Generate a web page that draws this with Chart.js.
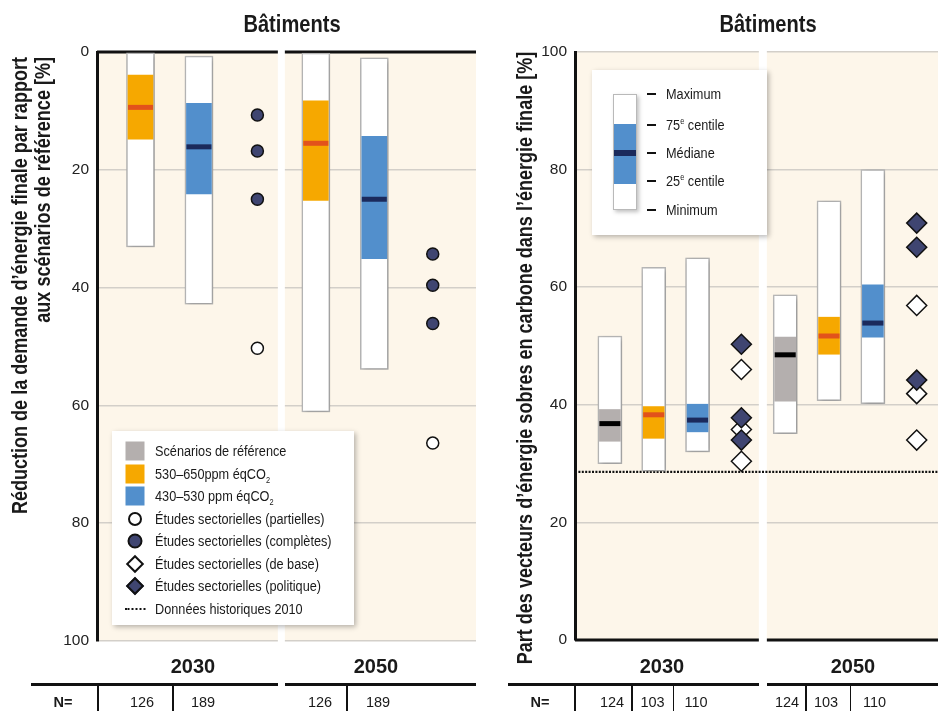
<!DOCTYPE html>
<html lang="fr">
<head>
<meta charset="utf-8">
<title>Bâtiments</title>
<script src="https://cdn.jsdelivr.net/npm/chart.js@4.4.1/dist/chart.umd.min.js"></script>
<style>
  body { margin: 0; background: #fff; }
  #page { position: relative; width: 938px; height: 711px; overflow: hidden;
          font-family: "Liberation Sans", Arial, sans-serif; color: #1a1a1a; }
  canvas { position: absolute; top: 0; }
  .abs { position: absolute; white-space: nowrap; line-height: 1; }
  .e { display: inline-block; transform: scaleX(0.82); transform-origin: 0 50%; white-space: nowrap; }
  .titre { font-weight: bold; font-size: 24.5px; top: 12px; transform: translateX(-50%) scaleX(0.82); }
  .axe { font-weight: bold; font-size: 22px; line-height: 23px; transform-origin: 0 0; transform: rotate(-90deg) scaleX(0.82); }
  .annee { font-weight: bold; font-size: 20px; top: 656px; transform: translateX(-50%); }
  .n { font-size: 14.5px; top: 695px; transform: translateX(-50%); }
  .n.b { font-weight: bold; }
  .trait { position: absolute; background: #111; }
  .legende { position: absolute; background: #fff; box-shadow: 2px 2px 5px rgba(0,0,0,.28); font-size: 15.5px; }
  .ligne { position: relative; height: 22.5px; line-height: 22.5px; padding-left: 43px; white-space: nowrap; }
  .sym { position: absolute; left: 23px; top: 50%; transform: translate(-50%, -50%); box-sizing: border-box; }
  .carre { width: 19px; height: 19px; }
  .rond { border-radius: 50%; border: 2.5px solid #111; }
  .losange { width: 13px; height: 13px; border: 2px solid #111; transform: translate(-50%, -50%) rotate(45deg); }
  .pointilles { width: 21px; height: 0; border-top: 2.5px dotted #111; }
  sub, sup { font-size: 9px; line-height: 0; }
  .tiret { position: absolute; width: 9px; height: 2px; background: #111; left: 55px; }
  .lbl { position: absolute; left: 74px; transform: translateY(-50%) scaleX(0.82); transform-origin: 0 50%; white-space: nowrap; line-height: 1; }
</style>
</head>
<body>
<div id="page">
  <canvas id="gauche" width="476" height="711" style="left:0"></canvas>
  <canvas id="droite" width="462" height="711" style="left:476px"></canvas>

  <div class="abs titre" style="left:292px">Bâtiments</div>
  <div class="abs titre" style="left:768px">Bâtiments</div>

  <div class="abs axe" style="left:7.5px; top:549px; width:600px; text-align:right">Réduction de la demande d’énergie finale par rapport<br>aux scénarios de référence [%]</div>
  <div class="abs axe" style="left:513px; top:686px; width:800px; text-align:center">Part des vecteurs d’énergie sobres en carbone dans l’énergie finale [%]</div>

  <div class="abs annee" style="left:193px">2030</div>
  <div class="abs annee" style="left:376px">2050</div>
  <div class="abs annee" style="left:662px">2030</div>
  <div class="abs annee" style="left:853px">2050</div>

  <div class="trait" style="left:31px; top:683px; width:247px; height:2.5px"></div>
  <div class="trait" style="left:285px; top:683px; width:191px; height:2.5px"></div>
  <div class="trait" style="left:96.5px; top:684px; width:2.5px; height:27px"></div>
  <div class="trait" style="left:172px; top:684px; width:1.5px; height:27px"></div>
  <div class="trait" style="left:346px; top:684px; width:1.5px; height:27px"></div>
  <div class="trait" style="left:508px; top:683px; width:251px; height:2.5px"></div>
  <div class="trait" style="left:767px; top:683px; width:171px; height:2.5px"></div>
  <div class="trait" style="left:573.5px; top:684px; width:2.5px; height:27px"></div>
  <div class="trait" style="left:631px; top:684px; width:1.5px; height:27px"></div>
  <div class="trait" style="left:672.5px; top:684px; width:1.5px; height:27px"></div>
  <div class="trait" style="left:805px; top:684px; width:1.5px; height:27px"></div>
  <div class="trait" style="left:849.5px; top:684px; width:1.5px; height:27px"></div>
  <div class="abs n b" style="left:63px">N=</div>
  <div class="abs n b" style="left:540px">N=</div>
  <div id="effectifs"></div>

  <div class="legende" style="left:112px; top:431px; width:242px; height:194px; padding-top:9px; box-sizing:border-box">
    <div class="ligne"><span class="sym carre" style="background:#B4AFAE"></span><span class="e">Scénarios de référence</span></div>
    <div class="ligne"><span class="sym carre" style="background:#F6A800"></span><span class="e">530–650ppm éqCO<sub>2</sub></span></div>
    <div class="ligne"><span class="sym carre" style="background:#528FCC"></span><span class="e">430–530 ppm éqCO<sub>2</sub></span></div>
    <div class="ligne"><span class="sym rond" style="width:14px;height:14px;background:#fff"></span><span class="e">Études sectorielles (partielles)</span></div>
    <div class="ligne"><span class="sym rond" style="width:15px;height:15px;background:#3F4571;border-width:2px"></span><span class="e">Études sectorielles (complètes)</span></div>
    <div class="ligne"><span class="sym losange" style="background:#fff"></span><span class="e">Études sectorielles (de base)</span></div>
    <div class="ligne"><span class="sym losange" style="background:#3F4571"></span><span class="e">Études sectorielles (politique)</span></div>
    <div class="ligne"><span class="sym pointilles"></span><span class="e">Données historiques 2010</span></div>
  </div>

  <div class="legende" style="left:592px; top:70px; width:175px; height:165px">
    <div style="position:absolute; left:21px; top:24px; width:24px; height:116px; box-sizing:border-box; background:#fff; border:1.5px solid #B9B9B9; box-shadow:1.5px 1.5px 4px rgba(0,0,0,.25)">
      <div style="position:absolute; left:0; right:0; top:28.5px; height:60px; background:#528FCC"></div>
      <div style="position:absolute; left:0; right:0; top:55px; height:6px; background:#1B2A5C"></div>
    </div>
    <div class="tiret" style="top:23px"></div><div class="lbl" style="top:23.7px">Maximum</div>
    <div class="tiret" style="top:54px"></div><div class="lbl" style="top:55px">75<sup>e</sup> centile</div>
    <div class="tiret" style="top:82px"></div><div class="lbl" style="top:82.7px">Médiane</div>
    <div class="tiret" style="top:110px"></div><div class="lbl" style="top:111px">25<sup>e</sup> centile</div>
    <div class="tiret" style="top:139px"></div><div class="lbl" style="top:140px">Minimum</div>
  </div>
</div>

<script>
// [minimum, 25e centile, médiane, 75e centile, maximum] pour 2030 puis 2050
var annees = ['2030', '2050'];
var ticksY = [0, 20, 40, 60, 80, 100];

// panneau de gauche : réduction de la demande d'énergie finale [%]
var gauche530_650 = [[0.0, 3.9, 9.4, 14.8, 33.1], [0.2, 8.3, 15.5, 25.2, 61.1]];
var gauche430_530 = [[0.7, 8.7, 16.1, 24.1, 42.8], [1.0, 14.3, 25.0, 35.1, 53.9]];
var gaucheCompletes = [[10.7, 16.8, 25.0], [34.3, 39.6, 46.1]];
var gauchePartielles = [[50.3], [66.4]];
var nGauche = [[126, 189], [126, 189]];

// panneau de droite : part des vecteurs sobres en carbone [%]
var droiteReference = [[30.0, 33.8, 36.8, 39.2, 51.7], [35.1, 40.6, 48.5, 51.5, 58.7]];
var droite530_650 = [[28.7, 34.3, 38.3, 39.7, 63.4], [40.7, 48.6, 51.7, 54.9, 74.7]];
var droite430_530 = [[32.0, 35.4, 37.4, 40.1, 65.0], [40.2, 51.5, 53.9, 60.4, 80.0]];
var droitePolitique = [[50.3, 37.8, 34.0], [70.9, 66.8, 44.2]];
var droiteDeBase = [[46.0, 35.8, 30.4], [56.9, 41.9, 34.0]];
var historique2010 = 28.6;
var nDroite = [[124, 103, 110], [124, 103, 110]];

var creme = '#FDF6EA';
var marine = '#3F4571';

// une boîte = barre blanche (min-max), barre colorée (25e-75e), trait de médiane
function boites(stats, pos, couleur, couleurMediane, larg) {
  return [
    { type: 'bar', data: stats.map(function(s, g) { return { x: pos[g], y: [s[0], s[4]] }; }),
      backgroundColor: '#fff', borderColor: '#B9B9B9', borderWidth: 1.5, borderSkipped: false,
      barThickness: larg, grouped: false, order: 4, ombre: true },
    { type: 'bar', data: stats.map(function(s, g) { return { x: pos[g], y: [s[1], s[3]] }; }),
      backgroundColor: couleur, borderWidth: 0, barThickness: larg - 3, grouped: false, order: 3 },
    { type: 'scatter', data: stats.map(function(s, g) { return { x: pos[g], y: s[2] }; }),
      pointStyle: 'line', radius: (larg - 3) / 2, borderColor: couleurMediane, borderWidth: 5, order: 2 }
  ];
}

function marqueurs(valeurs, pos, style, fond, rayon, order) {
  var pts = [];
  valeurs.forEach(function(vs, g) { vs.forEach(function(v) { pts.push({ x: pos[g], y: v }); }); });
  return { type: 'scatter', data: pts, pointStyle: style, radius: rayon,
           backgroundColor: fond, borderColor: '#111', borderWidth: 1.5, order: order };
}

var decor = {
  id: 'decor',
  beforeDraw: function(chart) {
    var a = chart.chartArea, ctx = chart.ctx;
    ctx.save();
    ctx.fillStyle = creme;
    ctx.fillRect(a.left, a.top, a.right - a.left, a.bottom - a.top);
    ctx.restore();
  },
  beforeDatasetsDraw: function(chart, args, o) {
    var a = chart.chartArea, ctx = chart.ctx, x = chart.scales.x, y = chart.scales.y;
    ctx.save();
    var yb = o.axeEnHaut ? a.top : a.bottom;
    ctx.strokeStyle = '#111';
    ctx.lineWidth = 3;
    ctx.beginPath(); ctx.moveTo(a.left, yb); ctx.lineTo(a.right, yb); ctx.stroke();
    var xs = x.getPixelForValue(o.separation);
    ctx.fillStyle = '#fff';
    ctx.fillRect(xs - o.largeurSep / 2, a.top - 3, o.largeurSep, a.bottom - a.top + 6);
    if (o.historique != null) {
      var yh = y.getPixelForValue(o.historique);
      ctx.setLineDash([2, 1.4]);
      ctx.lineWidth = 2.3;
      ctx.beginPath(); ctx.moveTo(a.left, yh); ctx.lineTo(a.right, yh); ctx.stroke();
    }
    ctx.restore();
  },
  beforeDatasetDraw: function(chart, args) {
    if (chart.data.datasets[args.index].ombre) {
      var c = chart.ctx;
      c.save();
      c.shadowColor = 'rgba(0,0,0,0.25)';
      c.shadowBlur = 5;
      c.shadowOffsetX = 1.5;
      c.shadowOffsetY = 1.5;
    }
  },
  afterDatasetDraw: function(chart, args) {
    if (chart.data.datasets[args.index].ombre) chart.ctx.restore();
  }
};

function options(largeurAxe, inverse, xmin, xmax, bas, deco) {
  return {
    responsive: false,
    animation: false,
    events: [],
    layout: { autoPadding: false, padding: { top: 52, bottom: bas, left: 0, right: 0 } },
    scales: {
      x: { type: 'linear', display: false, offset: false, min: xmin, max: xmax },
      y: {
        min: 0, max: 100, reverse: inverse,
        afterFit: function(s) { s.width = largeurAxe; },
        afterBuildTicks: function(s) { s.ticks = ticksY.map(function(v) { return { value: v }; }); },
        grid: { color: '#D3CFC9', lineWidth: 1.5, drawTicks: false },
        border: { display: true, color: '#111', width: 3 },
        ticks: { padding: 8, color: '#222', font: { family: 'Liberation Sans', size: 15.5 } }
      }
    },
    plugins: { legend: { display: false }, tooltip: { enabled: false }, decor: deco }
  };
}

new Chart(document.getElementById('gauche'), {
  type: 'bar',
  data: {
    datasets: [].concat(
      boites(gauche530_650, [0, 3], '#F6A800', '#E2521B', 28),
      boites(gauche430_530, [1, 4], '#528FCC', '#1B2A5C', 28),
      [marqueurs(gaucheCompletes, [2, 5], 'circle', marine, 6, 1),
       marqueurs(gauchePartielles, [2, 5], 'circle', '#fff', 6, 1)]
    )
  },
  options: options(97, true, -0.744, 5.74, 70, { axeEnHaut: true, separation: 2.41, largeurSep: 7 }),
  plugins: [decor]
});

new Chart(document.getElementById('droite'), {
  type: 'bar',
  data: {
    datasets: [].concat(
      boites(droiteReference, [0, 4], '#B4AFAE', '#000', 24),
      boites(droite530_650, [1, 5], '#F6A800', '#E2521B', 24),
      boites(droite430_530, [2, 6], '#528FCC', '#1B2A5C', 24),
      [marqueurs(droitePolitique, [3, 7], 'rectRot', marine, 10, 0),
       marqueurs(droiteDeBase, [3, 7], 'rectRot', '#fff', 10, 1)]
    )
  },
  options: options(99, false, -0.796, 7.486, 71, { axeEnHaut: false, separation: 3.49, largeurSep: 8, historique: historique2010 }),
  plugins: [decor]
});

// effectifs N= sous chaque boîte
var posN = { gauche: [[142, 203], [320, 378]], droite: [[612, 652.5, 696], [787, 826, 874.5]] };
var conteneur = document.getElementById('effectifs');
[[nGauche, posN.gauche], [nDroite, posN.droite]].forEach(function(p) {
  p[0].forEach(function(ns, g) {
    ns.forEach(function(n, i) {
      var d = document.createElement('div');
      d.className = 'abs n';
      d.style.left = p[1][g][i] + 'px';
      d.textContent = n;
      conteneur.appendChild(d);
    });
  });
});
</script>
</body>
</html>
